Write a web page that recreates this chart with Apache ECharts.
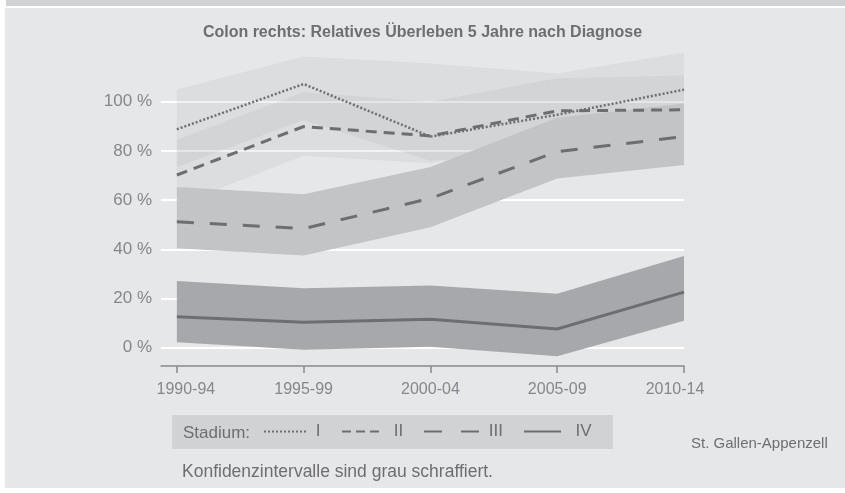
<!DOCTYPE html>
<html>
<head>
<meta charset="utf-8">
<script src="https://cdn.jsdelivr.net/npm/echarts@6/dist/echarts.min.js"></script>
<style>
html,body{margin:0;padding:0;background:#fff;}
#chart{width:845px;height:493px;}
</style>
</head>
<body>
<div id="chart"></div>
<script>
// ---- data ----
const categories = ['1990-94', '1995-99', '2000-04', '2005-09', '2010-14'];
const yTicks = [0, 20, 40, 60, 80, 100];
const stage1 = [88.8, 107.2, 85.8, 94.7, 104.9];
const stage2 = [70.2, 89.9, 86.1, 96.3, 96.7];
const stage3 = [51.2, 48.4, 60.7, 79.7, 85.8];
const stage4 = [12.6, 10.3, 11.6, 7.6, 22.6];
const ci1Low = [73.5, 92.6, 76.0, 80.0, 91.0];
const ci1High = [105.0, 118.4, 115.5, 111.5, 120.0];
const ci2Low = [58.0, 78.0, 75.0, 84.0, 84.0];
const ci2High = [84.5, 103.8, 100.0, 109.5, 110.6];
const ci3Low = [40.4, 37.5, 49.0, 68.8, 74.3];
const ci3High = [65.3, 62.4, 73.5, 93.5, 99.3];
const ci4Low = [2.2, -0.8, 0.4, -3.5, 11.0];
const ci4High = [27.1, 24.2, 25.3, 21.9, 37.3];
const stageNames = ['I', 'II', 'III', 'IV'];

// ---- styles ----
const FONT = "'Liberation Sans', Arial, Helvetica, sans-serif";
const DARK = '#6d6e71';
const LABEL = '#86878a';

const chart = echarts.init(document.getElementById('chart'), null, {renderer: 'canvas'});

function pairs(vals) { return vals.map((v, i) => [i, v]); }

function band(name, low, high, color) {
  return {
    name: name, type: 'custom', silent: true, clip: false,
    data: [[0, 0]],
    renderItem: function (params, api) {
      const pts = [];
      for (let i = 0; i < high.length; i++) pts.push(api.coord([i, high[i]]));
      for (let i = low.length - 1; i >= 0; i--) pts.push(api.coord([i, low[i]]));
      return { type: 'polygon', shape: { points: pts }, style: { fill: color } };
    }
  };
}

function line(name, vals, width, type) {
  return {
    name: name, type: 'line', data: pairs(vals), symbol: 'none', clip: false,
    silent: true, z: 5,
    lineStyle: { color: DARK, width: width, type: type, cap: 'butt', join: 'miter' },
    itemStyle: { color: DARK }
  };
}

const series = [
  band('ci1', ci1Low, ci1High, 'rgba(150,151,155,0.12)'),
  band('ci2', ci2Low, ci2High, 'rgba(150,151,155,0.12)'),
  band('ci3', ci3Low, ci3High, '#c3c4c6'),
  band('ci4', ci4Low, ci4High, '#a7a8ab'),
  line(stageNames[0], stage1, 2.5, [2, 2]),
  line(stageNames[1], stage2, 3, [11, 7]),
  line(stageNames[2], stage3, 3, [17, 16]),
  line(stageNames[3], stage4, 3, 'solid')
];

function legendItem(name, left, width, label, lineType) {
  const l = {
    data: [name], left: left, top: 423, padding: 0, itemWidth: width, itemHeight: 12,
    selectedMode: false,
    itemStyle: { opacity: 0 },
    formatter: function () { return label; },
    textStyle: { fontFamily: FONT, fontSize: 17, color: DARK }
  };
  if (lineType) l.lineStyle = { type: lineType };
  return l;
}

const option = {
  animation: false,
  backgroundColor: '#ffffff',
  title: {
    text: 'Colon rechts: Relatives Überleben 5 Jahre nach Diagnose',
    left: 'center', top: 25, padding: 0,
    textStyle: { fontFamily: FONT, fontSize: 16, fontWeight: 'bold', color: DARK }
  },
  graphic: [
    { type: 'rect', z: -10, shape: { x: 6, y: 0, width: 839, height: 6 }, style: { fill: '#d1d2d4' } },
    { type: 'rect', z: -10, shape: { x: 5, y: 8, width: 840, height: 480 }, style: { fill: '#e6e7e8' } },
    { type: 'rect', z: -5, shape: { x: 172, y: 415, width: 441, height: 34 }, style: { fill: '#d1d2d4' } },
    { type: 'text', x: 183, y: 433, style: { text: 'Stadium:', font: '17px ' + FONT, fill: DARK, verticalAlign: 'middle' } },
    { type: 'text', x: 691, y: 444, style: { text: 'St. Gallen-Appenzell', font: '15px ' + FONT, fill: DARK, verticalAlign: 'middle' } },
    { type: 'text', x: 182, y: 472, style: { text: 'Konfidenzintervalle sind grau schraffiert.', font: '17.5px ' + FONT, fill: DARK, verticalAlign: 'middle' } }
  ],
  legend: [
    legendItem(stageNames[0], 263, 42, ' I'),
    legendItem(stageNames[1], 341, 42, ' II', [9, 5]),
    legendItem(stageNames[2], 423, 55, ' III', [18, 19]),
    legendItem(stageNames[3], 523, 37, '  IV')
  ],
  grid: { left: 161, right: 161, top: 101.7, bottom: 145.3 },
  xAxis: {
    type: 'value', min: -0.125, max: 4, offset: 18.3,
    axisLine: { show: true, onZero: false, lineStyle: { color: '#8a8b8e', width: 1.5 } },
    axisTick: { show: true, length: 7, lineStyle: { color: '#8a8b8e', width: 1.5 }, customValues: [0, 1, 2, 3, 4] },
    axisLabel: {
      customValues: [0, 1, 2, 3, 4], margin: 16,
      formatter: function (v) {
        const i = Math.round(v);
        if (i === 0) return '{first|' + categories[i] + '}';
        if (i === categories.length - 1) return '{last|' + categories[i] + '}';
        return categories[i];
      },
      rich: {
        first: { padding: [0, 0, 0, 18], fontFamily: FONT, fontSize: 16, color: LABEL },
        last: { padding: [0, 18, 0, 0], fontFamily: FONT, fontSize: 16, color: LABEL }
      },
      fontFamily: FONT, fontSize: 16, color: LABEL
    },
    splitLine: { show: false }
  },
  yAxis: {
    type: 'value', min: yTicks[0], max: yTicks[yTicks.length - 1], interval: 20,
    axisLine: { show: false }, axisTick: { show: false },
    axisLabel: { margin: 9, formatter: '{value} %', fontFamily: FONT, fontSize: 17, color: LABEL },
    splitLine: { show: true, lineStyle: { color: '#ffffff', width: 2 } }
  },
  series: series
};
chart.setOption(option);
</script>
</body>
</html>
